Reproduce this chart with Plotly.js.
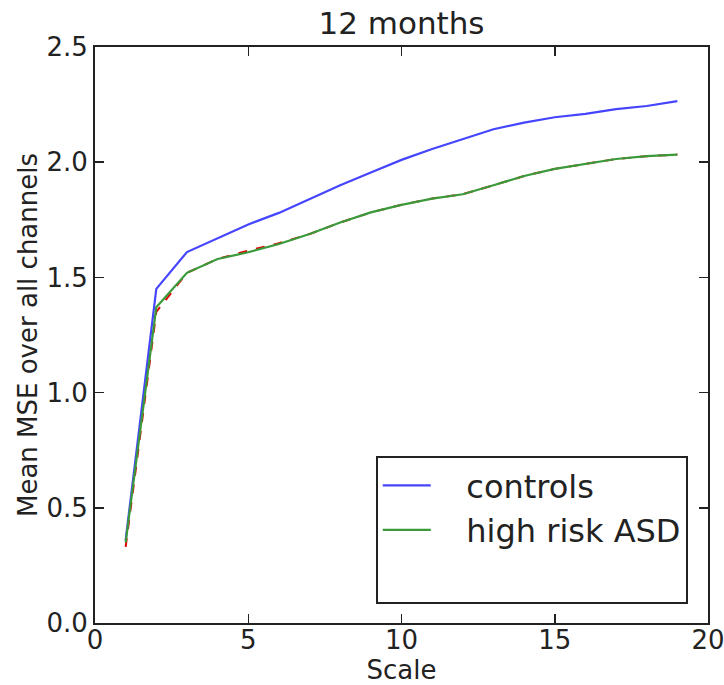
<!DOCTYPE html>
<html>
<head>
<meta charset="utf-8">
<script src="https://cdn.plot.ly/plotly-3.0.1.min.js"></script>
<style>
  html, body { margin: 0; padding: 0; background: #fff; }
  #chart { width: 724px; height: 685px; }
</style>
</head>
<body>
<div id="chart"></div>
<script>
// Data
const scales = [1, 2, 3, 4, 5, 6, 7, 8, 9, 10, 11, 12, 13, 14, 15, 16, 17, 18, 19];
const controls = [0.36, 1.45, 1.61, 1.67, 1.73, 1.78, 1.84, 1.90, 1.955, 2.01, 2.057, 2.10, 2.143, 2.172, 2.195, 2.21, 2.23, 2.244, 2.265];
const highRiskASD = [0.35, 1.37, 1.52, 1.58, 1.609, 1.645, 1.688, 1.738, 1.782, 1.815, 1.842, 1.861, 1.90, 1.94, 1.971, 1.994, 2.014, 2.026, 2.033];
const thirdSeries = [0.33, 1.35, 1.52, 1.58, 1.616, 1.648, 1.688, 1.738, 1.782, 1.815, 1.842, 1.861, 1.90, 1.94, 1.971, 1.994, 2.014, 2.026, 2.033];
const seriesNames = ['controls', 'high risk ASD'];
const xTicks = [0, 5, 10, 15, 20];
const yTicks = [0.0, 0.5, 1.0, 1.5, 2.0, 2.5];
const yTickText = ['0.0', '0.5', '1.0', '1.5', '2.0', '2.5'];

const font = 'DejaVu Sans, Liberation Sans, sans-serif';
const gap = '\u00a0\u00a0\u00a0';
const traces = [
  { x: scales, y: thirdSeries, mode: 'lines', showlegend: false,
    line: { color: '#e00000', width: 2, dash: 'dash' }, hoverinfo: 'skip' },
  { x: scales, y: controls, mode: 'lines', name: gap + seriesNames[0],
    line: { color: '#4545ff', width: 2.2 } },
  { x: scales, y: highRiskASD, mode: 'lines', name: gap + seriesNames[1],
    line: { color: '#3a9a3a', width: 2.2 } },
  { x: [null], y: [null], mode: 'lines', name: ' ',
    line: { color: 'rgba(0,0,0,0)', width: 2 } }
];

const axisCommon = {
  showline: true, linecolor: '#222', linewidth: 2, mirror: 'allticks',
  ticks: 'inside', ticklen: 9, tickwidth: 1.5, tickcolor: '#222',
  showgrid: false, zeroline: false, ticklabeloverflow: 'allow',
  tickfont: { family: font, size: 26, color: '#222' }
};

const layout = {
  width: 724, height: 685,
  margin: { l: 95, r: 16, t: 47, b: 62 },
  paper_bgcolor: '#fff', plot_bgcolor: '#fff',
  title: { text: '12 months', font: { family: font, size: 31, color: '#222' },
           x: 0.5, xref: 'paper', y: 1, yref: 'paper', yanchor: 'bottom', pad: { b: 13 } },
  xaxis: Object.assign({}, axisCommon, {
    range: [0, 20], tickvals: xTicks, ticklabelstandoff: -7,
    title: { text: 'Scale', font: { family: font, size: 26, color: '#222' }, standoff: 0 }
  }),
  yaxis: Object.assign({}, axisCommon, {
    range: [0, 2.5], tickvals: yTicks, ticktext: yTickText,
    title: { text: 'Mean MSE over all channels', font: { family: font, size: 26, color: '#222' }, standoff: 1 }
  }),
  legend: {
    x: 0.967, xanchor: 'right', y: 0.033, yanchor: 'bottom',
    bgcolor: '#fff', bordercolor: '#222', borderwidth: 2,
    font: { family: font, size: 32, color: '#222' },
    itemwidth: 48, tracegroupgap: 0
  },
  showlegend: true
};

Plotly.newPlot('chart', traces, layout, { staticPlot: true, displayModeBar: false });
</script>
</body>
</html>
